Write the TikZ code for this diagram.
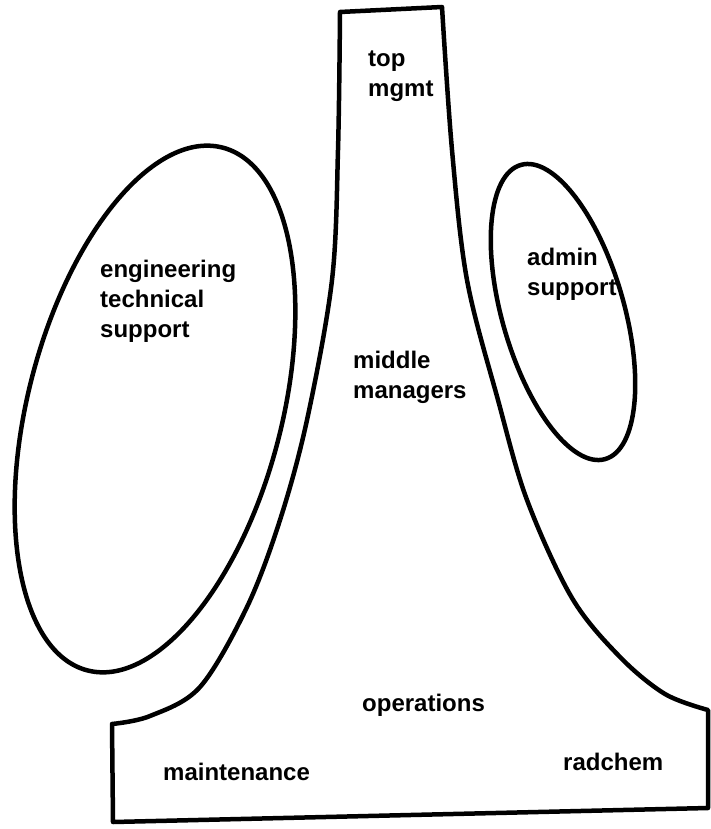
\documentclass[tikz,border=0pt]{standalone}
\usepackage{fontspec}
\setmainfont{Liberation Sans}
\begin{document}
\begin{tikzpicture}[x=1pt,y=-1pt,
  outline/.style={draw=black, line width=4.5pt, line join=round, line cap=round},
  lbl/.style={anchor=base west, inner sep=0pt, align=left,
    font=\fontsize{24}{30}\selectfont\bfseries}]
\useasboundingbox (0,0) rectangle (711,829);
% central shape
\draw[outline] (112,724) -- (113,822) -- (708,808) -- (708,710)
  -- plot[smooth, tension=0.55] coordinates {(708,710) (665,694) (620,657) (572,598) (527,500) (498,400) (467,280) (452,150) (442,7)}
  -- (340,12)
  -- plot[smooth, tension=0.55] coordinates {(340,12) (338,150) (332,280) (307,420) (280,520) (247,607) (200,687) (150,716) (112,724)}
  -- cycle;
% ellipses
\draw[outline, shift={(155,409)}, rotate=-14.5] (0,0) ellipse [x radius=127, y radius=270];
\draw[outline, shift={(563,312)}, rotate=16] (0,0) ellipse [x radius=61, y radius=153];
% labels
\node[lbl] (top) at (368,97) {top\\mgmt};
\node[lbl] (eng) at (100,337) {engineering\\technical\\support};
\node[lbl] (adm) at (527,295) {admin\\support};
\node[lbl] (mid) at (353,398) {middle\\managers};
\node[lbl] (ops) at (362,711) {operations};
\node[lbl] (mnt) at (163,780) {maintenance};
\node[lbl] (rad) at (563,770) {radchem};
\end{tikzpicture}
\end{document}
